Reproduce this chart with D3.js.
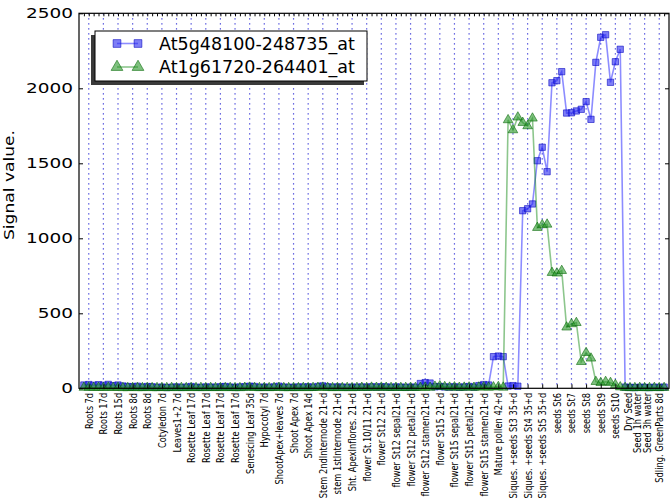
<!DOCTYPE html>
<html>
<head>
<meta charset="utf-8">
<script src="https://cdn.jsdelivr.net/npm/d3@7"></script>
<style>
  body { margin: 0; background: #fff; }
  svg { display: block; }
  text { font-family: "DejaVu Sans", sans-serif; fill: #000; }
</style>
</head>
<body>
<svg width="672" height="504"></svg>
<script>
const groupLabels = [
  "Roots 7d", "Roots 17d", "Roots 15d", "Roots 8d", "Roots 8d",
  "Cotyledon 7d", "Leaves1+2 7d", "Rosette Leaf 17d", "Rosette Leaf 17d",
  "Rosette Leaf 17d", "Rosette Leaf 17d", "Senescing Leaf 35d", "Hypocotyl 7d",
  "ShootApex+leaves 7d", "Shoot Apex 7d", "Shoot Apex 14d",
  "Stem 2ndInternode 21+d", "stem 1stInternode 21+d", "Sht. ApexInflores. 21+d",
  "flower St.10/11 21+d", "flower St12 21+d", "flower St12 sepal21+d",
  "flower St12 petal21+d", "flower St12 stamen21+d", "flower St15 21+d",
  "flower St15 sepal21+d", "flower St15 petal21+d", "flower St15 stamen21+d",
  "Mature pollen 42+d", "Siques. +seeds St3 35+d", "Siques. +seeds St4 35+d",
  "Siques. +seeds St5 35+d", "seeds St6", "seeds St7", "seeds St8", "seeds St9",
  "seeds St10", "Dry Seed", "Seed 1h water", "Seed 3h water", "Sdling. GreenParts 8d"
];
const groupSizes = [
  3, 3, 3, 3, 3, 3, 3, 3, 3, 3, 3, 3, 3, 3, 3, 3, 3, 3, 3, 3, 3,
  3, 3, 3, 3, 3, 3, 3, 3, 3, 3, 3, 3, 3, 3, 3, 3, 2, 2, 2, 3
];
const seriesNames = ["At5g48100-248735_at", "At1g61720-264401_at"];

// one value per array sample, replicates of a tissue side by side
const probe1 = [
  22, 25, 20,  24, 20, 26,  18, 22, 15,  12, 10, 14,  8, 12, 10,
  6, 8, 5,  7, 9, 6,  8, 12, 7,  6, 9, 8,  7, 10, 12,  8, 6, 9,
  10, 14, 12,  6, 8, 7,  9, 14, 8,  7, 6, 9,  8, 10, 7,
  12, 16, 10,  7, 9, 8,  6, 8, 7,  9, 7, 10,  8, 10, 9,  7, 9, 8,
  6, 8, 7,  32, 38, 35,  10, 12, 9,  8, 10, 7,  9, 12, 8,  18, 25, 22,
  211, 215, 211,  15, 18, 14,  1184, 1197, 1229,  1517, 1607, 1444,
  2037, 2051, 2111,  1835, 1837, 1849,  1860, 1911, 1793,
  2173, 2340, 2357,  2040, 2177, 2260,
  8, 6,  5, 7,  6, 5,  7, 6, 8
];
const probe2 = [
  5, 6, 4,  5, 4, 6,  4, 5, 3,  3, 4, 3,  3, 4, 3,
  3, 4, 3,  4, 3, 4,  3, 4, 3,  4, 3, 4,  3, 4, 3,  4, 3, 3,
  5, 6, 4,  3, 4, 3,  4, 5, 3,  3, 4, 3,  4, 3, 4,
  5, 6, 4,  3, 4, 3,  4, 3, 4,  5, 4, 6,  5, 6, 5,  4, 5, 4,
  4, 5, 4,  5, 6, 5,  12, 15, 10,  6, 8, 5,  6, 7, 5,  7, 8, 6,
  8, 10, 6,  1789, 1722, 1807,  1771, 1749, 1800,  1071, 1089, 1093,
  771, 767, 784,  407, 429, 437,  177, 237, 200,
  44, 37, 44,  37, 24, 8,
  4, 3,  3, 4,  3, 3,  4, 3, 4
];
const yTicks = [0, 500, 1000, 1500, 2000, 2500];

const svg = d3.select("svg");
const nSamples = probe1.length;

const x = d3.scaleLinear().domain([-1, nSamples]).range([79, 669]);
const y = d3.scaleLinear().domain([0, 2500]).range([388.3, 13.3]);

// tick positions at the middle of each tissue group
const groupCenters = [];
let start = 0;
groupSizes.forEach((n) => {
  groupCenters.push(start + (n - 1) / 2);
  start += n;
});

// dotted vertical grid, every third sample
const gridIdx = d3.range(1, nSamples, 3);
svg.append("g")
  .selectAll("line")
  .data(gridIdx)
  .join("line")
  .attr("x1", (d) => x(d))
  .attr("x2", (d) => x(d))
  .attr("y1", y(2500))
  .attr("y2", y(0))
  .attr("stroke", "#3c3cd8")
  .attr("stroke-width", 1.2)
  .attr("stroke-dasharray", "1.3,3.7");

const series = [
  { values: probe1, line: "rgba(0,0,255,0.45)", fill: "rgba(40,40,240,0.6)", edge: "rgba(0,0,190,0.7)", shape: d3.symbolSquare },
  { values: probe2, line: "rgba(0,128,0,0.45)", fill: "rgba(40,150,40,0.6)", edge: "rgba(0,100,0,0.7)", shape: d3.symbolTriangle }
];

const line = d3.line().x((d, i) => x(i)).y((d) => y(d));

series.forEach((s) => {
  const g = svg.append("g");
  g.append("path")
    .attr("d", line(s.values))
    .attr("fill", "none")
    .attr("stroke", s.line)
    .attr("stroke-width", 1.6);
  g.selectAll("path.mk")
    .data(s.values)
    .join("path")
    .attr("class", "mk")
    .attr("d", d3.symbol().type(s.shape).size(40))
    .attr("transform", (d, i) => `translate(${x(i)},${y(d)})`)
    .attr("fill", s.fill)
    .attr("stroke", s.edge)
    .attr("stroke-width", 0.8);
});

// axes
const axBottom = svg.append("g")
  .attr("transform", `translate(0,${y(0)})`)
  .call(d3.axisBottom(x).tickValues(groupCenters).tickSize(-4).tickFormat((d, i) => groupLabels[i]));
axBottom.select(".domain").remove();
axBottom.selectAll("text")
  .attr("transform", "rotate(-90) scale(0.83,1)")
  .attr("text-anchor", "end")
  .attr("x", -5.5)
  .attr("y", 0)
  .attr("dy", "0.35em")
  .style("font-size", "10px")
  .style("font-family", "DejaVu Sans");

const axTop = svg.append("g")
  .attr("transform", `translate(0,${y(2500)})`)
  .call(d3.axisTop(x).tickValues(d3.range(0, nSamples)).tickSize(-3).tickFormat(""));
axTop.select(".domain").remove();

const axLeft = svg.append("g")
  .attr("transform", `translate(${x(-1)},0)`)
  .call(d3.axisLeft(y).tickValues(yTicks).tickSize(-4).tickFormat(""));
axLeft.select(".domain").remove();

const axRight = svg.append("g")
  .attr("transform", `translate(${x(nSamples)},0)`)
  .call(d3.axisRight(y).tickValues(yTicks).tickSize(-4).tickFormat(""));
axRight.select(".domain").remove();

svg.selectAll(".tick line").attr("stroke", "#000");

svg.append("g")
  .selectAll("text")
  .data(yTicks)
  .join("text")
  .attr("transform", (d) => `translate(73,${y(d)}) scale(1.32,1)`)
  .attr("text-anchor", "end")
  .attr("dy", "0.36em")
  .style("font-size", "14px")
  .text((d) => d);

svg.append("rect")
  .attr("x", x(-1))
  .attr("y", y(2500))
  .attr("width", x(nSamples) - x(-1))
  .attr("height", y(0) - y(2500))
  .attr("fill", "none")
  .attr("stroke", "#000")
  .attr("stroke-width", 1.2);

svg.append("text")
  .attr("transform", "translate(14,240) rotate(-90)")
  .attr("textLength", 110)
  .attr("lengthAdjust", "spacingAndGlyphs")
  .style("font-size", "14px")
  .text("Signal value.");

// legend
const lg = svg.append("g");
lg.append("rect").attr("x", 91).attr("y", 35).attr("width", 273).attr("height", 50).attr("fill", "#3a3a3a");
lg.append("rect").attr("x", 95).attr("y", 31).attr("width", 272).attr("height", 50)
  .attr("fill", "#fff").attr("stroke", "#000").attr("stroke-width", 1);

seriesNames.forEach((name, i) => {
  const s = series[i];
  const cy = 43.5 + i * 23.5;
  lg.append("line")
    .attr("x1", 117).attr("x2", 138).attr("y1", cy).attr("y2", cy)
    .attr("stroke", s.line).attr("stroke-width", 1.6);
  [117, 138].forEach((cx) => {
    lg.append("path")
      .attr("d", d3.symbol().type(s.shape).size(60))
      .attr("transform", `translate(${cx},${cy})`)
      .attr("fill", s.fill)
      .attr("stroke", s.edge)
      .attr("stroke-width", 0.8);
  });
  lg.append("text")
    .attr("x", 159)
    .attr("y", cy)
    .attr("dy", "0.36em")
    .style("font-size", "17.5px")
    .text(name);
});
</script>
</body>
</html>
